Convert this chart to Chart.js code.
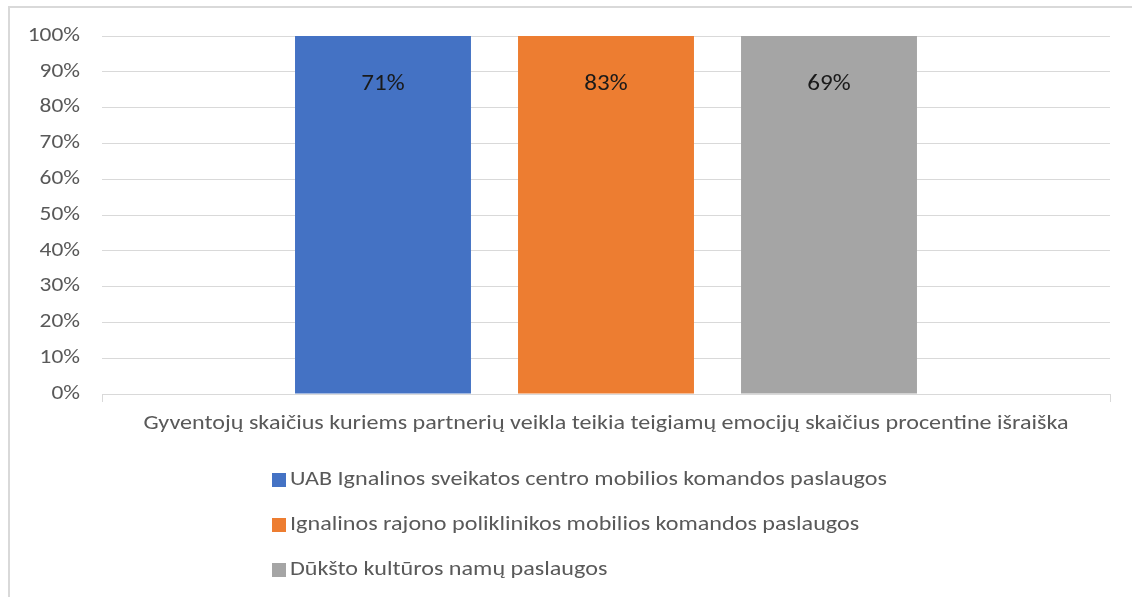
<!DOCTYPE html>
<html>
<head>
<meta charset="utf-8">
<script src="https://cdn.jsdelivr.net/npm/chart.js@4"></script>
<style>
  html, body { margin: 0; padding: 0; background: #ffffff; }
  #wrap { position: relative; width: 1132px; height: 597px; overflow: hidden; }
  canvas { display: block; }
</style>
</head>
<body>
<div id="wrap"><canvas id="c" width="1132" height="597"></canvas></div>
<script>
// ---- Data ----
const categories = ["Gyventojų skaičius kuriems partnerių veikla teikia teigiamų emocijų skaičius procentine išraiška"];
const seriesNames = [
  "UAB Ignalinos sveikatos centro mobilios komandos paslaugos",
  "Ignalinos rajono poliklinikos mobilios komandos paslaugos",
  "Dūkšto kultūros namų paslaugos"
];
const seriesValues = [71, 83, 69];
const seriesColors = ["#4472C4", "#ED7D31", "#A5A5A5"];
const yTickMax = 100;
const yTickStep = 10;

// 100% stacked: each series sits in its own stack, so its share of that stack
const datasets = seriesNames.map((name, i) => {
  const stackTotal = seriesValues[i];
  return {
    label: name,
    data: [seriesValues[i] / stackTotal * 100],
    rawValues: [seriesValues[i]],
    backgroundColor: seriesColors[i],
    stack: "s" + i,
    categoryPercentage: 0.6637,
    barPercentage: 0.789
  };
});

const FONT = "Carlito, Lato, 'Liberation Sans', sans-serif";
const TEXT = "#595959";
const GRID = "#D9D9D9";
const CLEAR = "rgba(0,0,0,0)";

// draw text with a horizontal stretch (the reference text is wide)
function stretchedText(ctx, text, x, y, sx, align) {
  ctx.save();
  ctx.translate(x, y);
  ctx.scale(sx, 1);
  ctx.textAlign = align;
  ctx.fillText(text, 0, 0);
  ctx.restore();
}

const borderPlugin = {
  id: "frame",
  beforeDraw(chart) {
    const ctx = chart.ctx;
    ctx.save();
    ctx.fillStyle = "#ffffff";
    ctx.fillRect(0, 0, chart.width, chart.height);
    ctx.strokeStyle = "#D9D9D9";
    ctx.lineWidth = 2;
    ctx.strokeRect(9, 7, 2000, 2000);
    ctx.restore();
  }
};

const axisTextPlugin = {
  id: "axisText",
  afterDraw(chart) {
    const ctx = chart.ctx;
    ctx.save();
    ctx.fillStyle = TEXT;
    ctx.textBaseline = "middle";
    // y tick labels
    const ys = chart.scales.y;
    ctx.font = "19.5px " + FONT;
    ys.ticks.forEach((t, i) => {
      stretchedText(ctx, t.label, 80, ys.getPixelForTick(i), 1.2, "right");
    });
    // category label
    const xs = chart.scales.x;
    ctx.font = "20.5px " + FONT;
    xs.ticks.forEach((t, i) => {
      const text = categories[i];
      const sx = 925 / ctx.measureText(text).width;
      stretchedText(ctx, text, xs.getPixelForTick(i), chart.chartArea.bottom + 30, sx, "center");
    });
    ctx.restore();
  }
};

const labelPlugin = {
  id: "valueLabels",
  afterDatasetsDraw(chart) {
    const ctx = chart.ctx;
    ctx.save();
    ctx.font = "23px " + FONT;
    ctx.fillStyle = "#1a1a1a";
    ctx.textBaseline = "middle";
    chart.data.datasets.forEach((ds, i) => {
      const meta = chart.getDatasetMeta(i);
      meta.data.forEach((bar, j) => {
        stretchedText(ctx, ds.rawValues[j] + "%", bar.x, bar.y + 48, 1.09, "center");
      });
    });
    ctx.restore();
  }
};

const legendPlugin = {
  id: "stackLegend",
  afterDraw(chart) {
    const ctx = chart.ctx;
    const base = chart.chartArea.bottom;
    const rowOffsets = [86, 131, 176];
    ctx.save();
    ctx.font = "19.5px " + FONT;
    ctx.textBaseline = "middle";
    const sx = 597 / ctx.measureText(chart.data.datasets[0].label).width;
    chart.data.datasets.forEach((ds, i) => {
      const cy = base + rowOffsets[i];
      ctx.fillStyle = ds.backgroundColor;
      ctx.fillRect(272, cy - 7, 14, 14);
      ctx.fillStyle = TEXT;
      stretchedText(ctx, ds.label, 290, cy, sx, "left");
    });
    ctx.restore();
  }
};

new Chart(document.getElementById("c"), {
  type: "bar",
  data: { labels: categories, datasets: datasets },
  plugins: [borderPlugin, labelPlugin, axisTextPlugin, legendPlugin],
  options: {
    responsive: false,
    animation: false,
    layout: { padding: { left: 0, top: 36, right: 22, bottom: 0 } },
    plugins: {
      legend: { display: false },
      tooltip: { enabled: false },
      title: { display: false }
    },
    scales: {
      x: {
        stacked: true,
        afterFit(scale) { scale.height = 203; },
        border: { display: true, color: GRID, width: 1 },
        grid: { display: true, drawOnChartArea: false, drawTicks: true, tickLength: 8, color: GRID, offset: true },
        ticks: { color: CLEAR, font: { family: FONT, size: 19 }, padding: 8, maxRotation: 0, autoSkip: false }
      },
      y: {
        stacked: true,
        min: 0,
        max: yTickMax,
        afterFit(scale) { scale.width = 102; },
        border: { display: false },
        grid: { color: GRID, lineWidth: 1, drawTicks: false },
        ticks: {
          stepSize: yTickStep,
          color: CLEAR,
          font: { family: FONT, size: 19.5 },
          padding: 23,
          callback: (v) => v + "%"
        }
      }
    }
  }
});
</script>
</body>
</html>
